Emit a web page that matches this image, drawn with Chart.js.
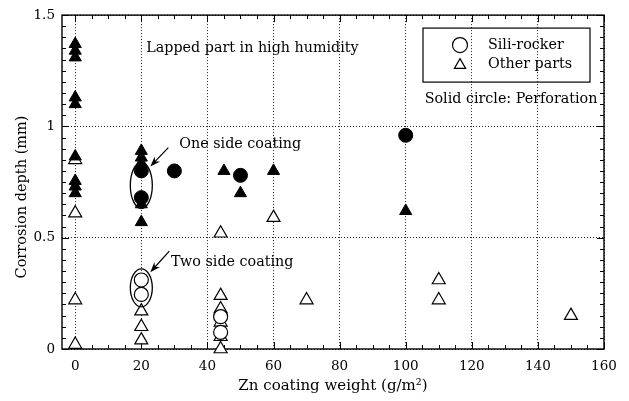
<!DOCTYPE html>
<html>
<head>
<meta charset="utf-8">
<script src="https://cdn.jsdelivr.net/npm/chart.js@4.4.0/dist/chart.umd.min.js"></script>
<style>
  html, body { margin: 0; padding: 0; background: #fff; }
</style>
</head>
<body>
<canvas id="chart" width="629" height="401"></canvas>
<script>
// Axis ticks
const xTicks = [0, 20, 40, 60, 80, 100, 120, 140, 160];
const yTicks = [0, 0.5, 1, 1.5];

// Other parts, perforated (solid triangles)
const otherPerforated = [
    [0, 1.37], [0, 1.34], [0, 1.31], [0, 1.13], [0, 1.10], [0, 0.865],
    [0, 0.755], [0, 0.73], [0, 0.70],
    [20, 0.89], [20, 0.86], [20, 0.835], [20, 0.65], [20, 0.57],
    [45, 0.80], [50, 0.70], [60, 0.80], [100, 0.62]
];
// Sill-rocker, perforated (solid circles)
const sillPerforated = [[20, 0.80], [20, 0.68], [30, 0.80], [50, 0.78], [100, 0.96]];
// Other parts (open triangles)
const otherParts = [
    [0, 0.85], [0, 0.61], [0, 0.22], [0, 0.02],
    [20, 0.17], [20, 0.10], [20, 0.04],
    [44, 0.52], [44, 0.24], [44, 0.18], [44, 0.12], [44, 0.055], [44, 0.0],
    [60, 0.59], [70, 0.22], [110, 0.31], [110, 0.22], [150, 0.15]
];
// Sill-rocker (open circles)
const sillRocker = [[20, 0.31], [20, 0.245], [44, 0.145], [44, 0.075]];

const serif = "'DejaVu Serif', 'Liberation Serif', serif";

const toPoints = arr => arr.map(p => ({ x: p[0], y: p[1] }));

function arrow(ctx, x1, y1, x2, y2) {
    // line from (x1,y1) to tip (x2,y2)
    const ang = Math.atan2(y2 - y1, x2 - x1);
    ctx.beginPath();
    ctx.moveTo(x1, y1);
    ctx.lineTo(x2 - Math.cos(ang) * 6, y2 - Math.sin(ang) * 6);
    ctx.stroke();
    ctx.beginPath();
    ctx.moveTo(x2, y2);
    ctx.lineTo(x2 - Math.cos(ang - 0.35) * 11, y2 - Math.sin(ang - 0.35) * 11);
    ctx.lineTo(x2 - Math.cos(ang) * 7, y2 - Math.sin(ang) * 7);
    ctx.lineTo(x2 - Math.cos(ang + 0.35) * 11, y2 - Math.sin(ang + 0.35) * 11);
    ctx.closePath();
    ctx.fill();
}

const decorations = {
    id: "decorations",
    beforeDatasetsDraw(chart) {
        const { ctx, chartArea: a, scales: { x, y } } = chart;
        ctx.save();
        ctx.strokeStyle = "#000";
        ctx.lineWidth = 1.4;
        ctx.strokeRect(a.left, a.top, a.right - a.left, a.bottom - a.top);

        // inside ticks on all four sides
        ctx.lineWidth = 1;
        ctx.beginPath();
        for (let v = 0; v <= 160; v += 5) {
            const px = Math.round(x.getPixelForValue(v)) + 0.5;
            const len = v % 20 === 0 ? 7 : 4;
            ctx.moveTo(px, a.bottom); ctx.lineTo(px, a.bottom - len);
            ctx.moveTo(px, a.top); ctx.lineTo(px, a.top + len);
        }
        for (let i = 0; i <= 30; i++) {
            const py = Math.round(y.getPixelForValue(i * 0.05)) + 0.5;
            const len = i % 10 === 0 ? 7 : 4;
            ctx.moveTo(a.left, py); ctx.lineTo(a.left + len, py);
            ctx.moveTo(a.right, py); ctx.lineTo(a.right - len, py);
        }
        ctx.stroke();

        // y axis title
        ctx.fillStyle = "#000";
        ctx.font = "14.5px " + serif;
        ctx.textAlign = "center";
        ctx.textBaseline = "middle";
        ctx.translate(22, 197);
        ctx.rotate(-Math.PI / 2);
        ctx.fillText("Corrosion depth (mm)", 0, 0);
        ctx.restore();
    },
    afterDatasetsDraw(chart) {
        const { ctx, chartArea: a, scales: { x, y } } = chart;
        ctx.save();
        ctx.fillStyle = "#000";
        ctx.strokeStyle = "#000";
        ctx.font = "14.3px " + serif;
        ctx.textBaseline = "middle";
        ctx.textAlign = "left";
        ctx.fillText("Lapped part in high humidity", x.getPixelForValue(21.5), y.getPixelForValue(1.35));
        ctx.fillText("One side coating", x.getPixelForValue(31.5), y.getPixelForValue(0.92));
        ctx.fillText("Two side coating", x.getPixelForValue(29), y.getPixelForValue(0.39));
        ctx.textAlign = "right";
        ctx.fillText("Solid circle: Perforation", x.getPixelForValue(158), y.getPixelForValue(1.12));

        // ellipses around the sill-rocker pairs
        const cx = x.getPixelForValue(20);
        ctx.lineWidth = 1.3;
        ctx.beginPath();
        ctx.ellipse(cx, y.getPixelForValue(0.735), 11, 23, 0, 0, Math.PI * 2);
        ctx.stroke();
        ctx.beginPath();
        ctx.ellipse(cx, y.getPixelForValue(0.275), 11, 19, 0, 0, Math.PI * 2);
        ctx.stroke();

        ctx.lineWidth = 1.2;
        arrow(ctx, cx + 27, y.getPixelForValue(0.905), cx + 9, y.getPixelForValue(0.82));
        arrow(ctx, cx + 28, y.getPixelForValue(0.44), cx + 9, y.getPixelForValue(0.345));

        // legend box
        const lx = a.right - 181, ly = a.top + 13;
        ctx.lineWidth = 1.2;
        ctx.strokeRect(lx, ly, 167, 54);
        ctx.beginPath();
        ctx.arc(lx + 37, ly + 17, 7.5, 0, Math.PI * 2);
        ctx.stroke();
        const tx = lx + 37, ty = ly + 37, r = 6.5;
        ctx.beginPath();
        ctx.moveTo(tx, ty - r);
        ctx.lineTo(tx + r * 0.866, ty + r * 0.5);
        ctx.lineTo(tx - r * 0.866, ty + r * 0.5);
        ctx.closePath();
        ctx.stroke();
        ctx.textAlign = "left";
        ctx.fillText("Sili-rocker", lx + 65, ly + 17);
        ctx.fillText("Other parts", lx + 65, ly + 36);
        ctx.restore();
    }
};

new Chart(document.getElementById("chart"), {
    type: "scatter",
    data: {
        datasets: [
            {
                label: "Sill-rocker (perforation)",
                data: toPoints(sillPerforated),
                pointStyle: "circle", pointRadius: 7, borderWidth: 1,
                backgroundColor: "#000", borderColor: "#000", clip: false
            },
            {
                label: "Other parts (perforation)",
                data: toPoints(otherPerforated),
                pointStyle: "triangle", pointRadius: 7, borderWidth: 1,
                backgroundColor: "#000", borderColor: "#000", clip: false
            },
            {
                label: "Sill-rocker",
                data: toPoints(sillRocker),
                pointStyle: "circle", pointRadius: 7, borderWidth: 1.2,
                backgroundColor: "#fff", borderColor: "#000", clip: false
            },
            {
                label: "Other parts",
                data: toPoints(otherParts),
                pointStyle: "triangle", pointRadius: 7.5, borderWidth: 1.2,
                backgroundColor: "#fff", borderColor: "#000", clip: false
            }
        ]
    },
    options: {
        responsive: false,
        animation: false,
        layout: { padding: { left: 0, top: 14, right: 25, bottom: 0 } },
        plugins: { legend: { display: false }, tooltip: { enabled: false } },
        scales: {
            x: {
                type: "linear", min: -4, max: 160,
                afterBuildTicks: s => { s.ticks = xTicks.map(v => ({ value: v })); },
                afterFit: s => { s.height = 52; },
                grid: { color: "#222", lineWidth: 1, drawTicks: false },
                border: { display: false, dash: [1, 2] },
                ticks: {
                    padding: 9, color: "#000", font: { family: serif, size: 13.5 },
                    maxRotation: 0, autoSkip: false, callback: v => String(v)
                },
                title: {
                    display: true, text: "Zn coating weight (g/m²)", color: "#000",
                    font: { family: serif, size: 15 }, padding: { top: 0, bottom: 6 }
                }
            },
            y: {
                type: "linear", min: 0, max: 1.5,
                afterBuildTicks: s => { s.ticks = yTicks.map(v => ({ value: v })); },
                afterFit: s => { s.width = 62; },
                grid: { color: "#222", lineWidth: 1, drawTicks: false },
                border: { display: false, dash: [1, 2] },
                ticks: { padding: 7, color: "#000", font: { family: serif, size: 13.5 }, callback: v => String(v) }
            }
        }
    },
    plugins: [decorations]
});
</script>
</body>
</html>
